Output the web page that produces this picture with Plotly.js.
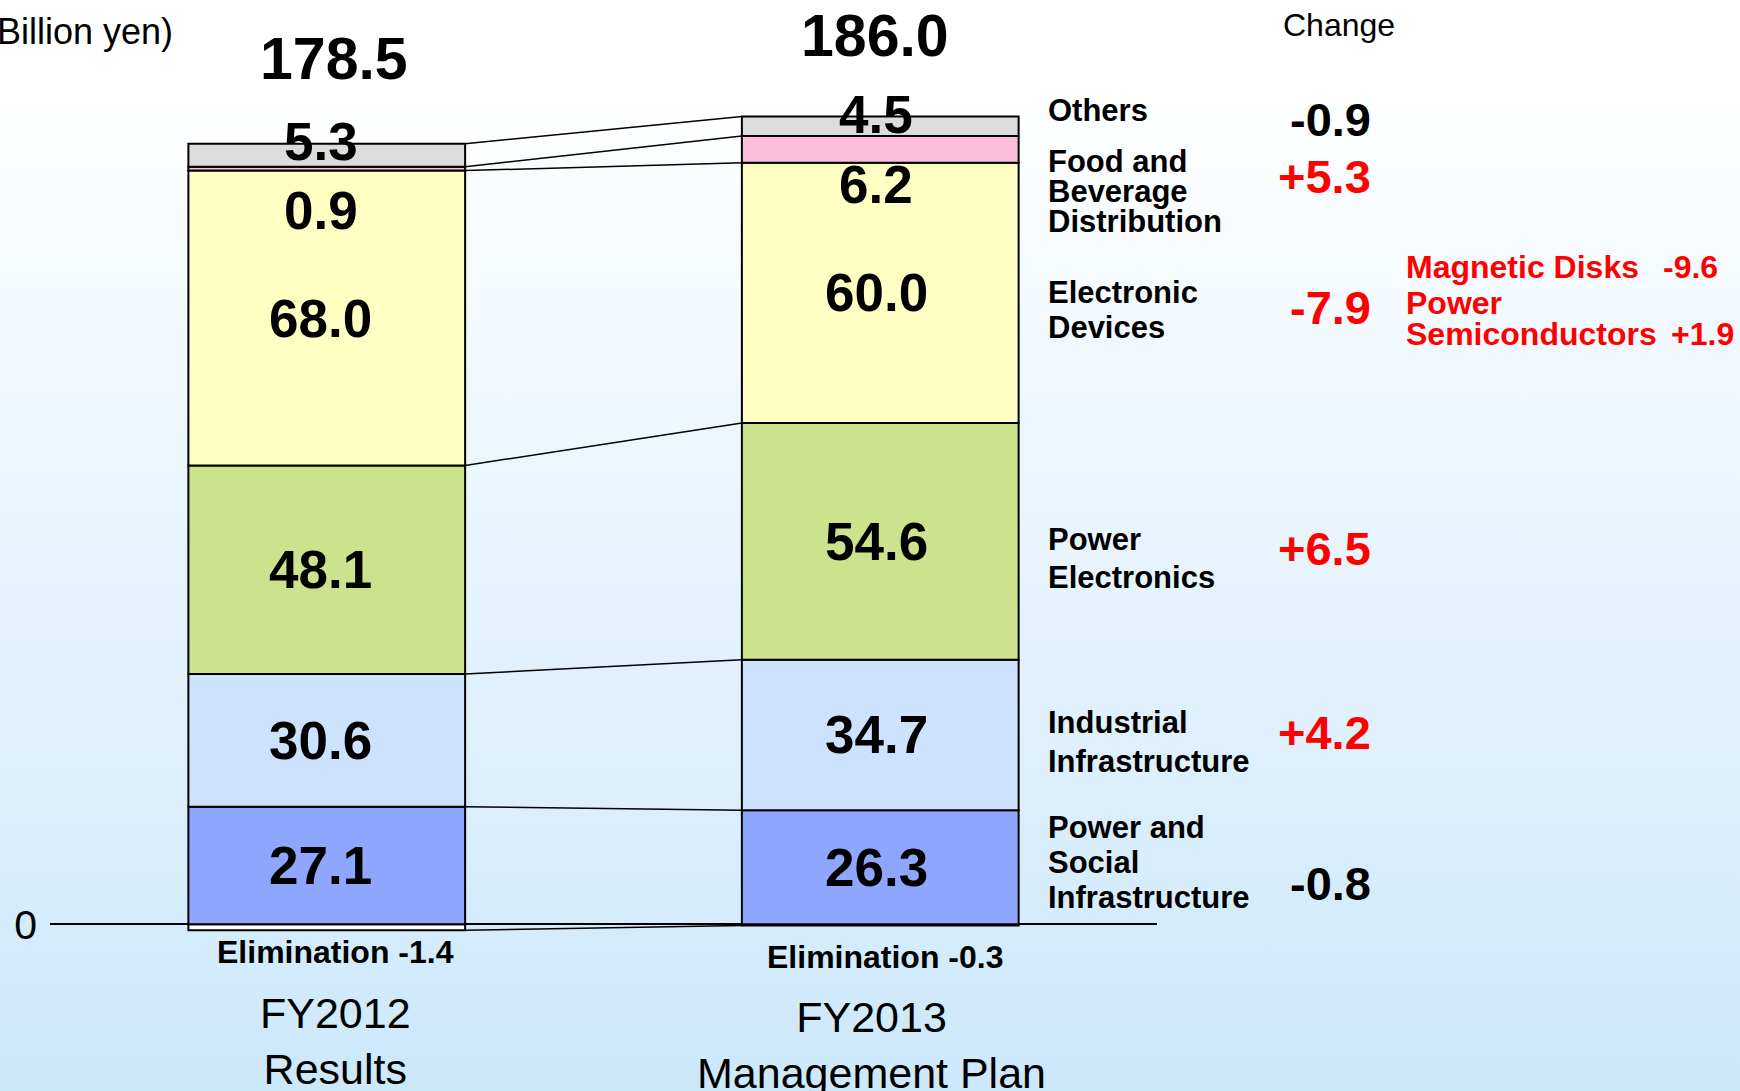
<!DOCTYPE html>
<html>
<head>
<meta charset="utf-8">
<script src="https://cdn.plot.ly/plotly-3.0.1.min.js"></script>
<style>
  html, body { margin: 0; padding: 0; }
  body {
    width: 1740px; height: 1091px; overflow: hidden;
    background: linear-gradient(to bottom, #ffffff 0%, #ffffff 8%, #cce8fb 100%);
  }
  #chart { width: 1740px; height: 1091px; }
</style>
</head>
<body>
<div id="chart"></div>
<script>
// segment values, billion yen (bottom to top)
const categories = ['FY2012<br>Results', 'FY2013<br>Management Plan'];
const powerSocial = [27.1, 26.3];
const industrial = [30.6, 34.7];
const powerElec = [48.1, 54.6];
const electronic = [68.0, 60.0];
const food = [0.9, 6.2];
const others = [5.3, 4.5];
const elimination = [-1.4, -0.3];
const totals = [178.5, 186.0];

// right hand labels and changes (top of the stack first)
const segmentNames = [
  ['Others'],
  ['Food and', 'Beverage', 'Distribution'],
  ['Electronic', 'Devices'],
  ['Power', 'Electronics'],
  ['Industrial', 'Infrastructure'],
  ['Power and', 'Social', 'Infrastructure']
];
const changes = ['-0.9', '+5.3', '-7.9', '+6.5', '+4.2', '-0.8'];
const changeRed = [false, true, true, true, true, false];
const detailNames = ['Magnetic Disks', 'Power', 'Semiconductors'];
const detailValues = ['-9.6', '', '+1.9'];

const W = 1740, H = 1091;
const M = {l: 50, r: 583, t: 57, b: 80};
const FONT = '"Liberation Sans", Arial, sans-serif';
const px = x => (x - M.l) / (W - M.l - M.r);
const py = y => (H - M.b - y) / (H - M.t - M.b);

const xs = [0, 1];
const BW = 0.5;

const series = [
  {name: 'Elimination', y: elimination, color: '#ffffff'},
  {name: 'Power and Social Infrastructure', y: powerSocial, color: '#8fa6ff'},
  {name: 'Industrial Infrastructure', y: industrial, color: '#cde2fd'},
  {name: 'Power Electronics', y: powerElec, color: '#cde28c'},
  {name: 'Electronic Devices', y: electronic, color: '#ffffc4'},
  {name: 'Food and Beverage Distribution', y: food, color: '#fbbfd9'},
  {name: 'Others', y: others, color: '#dcdcdc'}
];

const traces = series.map(s => ({
  type: 'bar',
  x: xs,
  y: s.y,
  width: BW,
  name: s.name,
  marker: {color: s.color, line: {color: '#000000', width: 2}},
  hoverinfo: 'skip'
}));

// cumulative tops of each positive segment
const positive = series.slice(1);
const tops = [];
let run = [0, 0];
positive.forEach(s => {
  run = run.map((v, i) => v + s.y[i]);
  tops.push(run.slice());
});

// connecting lines between the bars
const links = [elimination].concat(tops);
links.forEach(t => {
  traces.push({
    type: 'scatter', mode: 'lines',
    x: [xs[0] + BW / 2, xs[1] - BW / 2],
    y: t,
    line: {color: '#000000', width: 1.5},
    hoverinfo: 'skip', showlegend: false
  });
});

const annotations = [];
const bold = (size, color) => ({family: FONT, size: size, color: color || '#000000', weight: 'bold'});
const plain = size => ({family: FONT, size: size, color: '#000000'});
const note = o => Object.assign({showarrow: false, xanchor: 'center', yanchor: 'middle'}, o);

// values centred in the four big segments
const valShift = [-6, -4];
[1, 2, 3, 4].forEach(k => {
  const s = series[k];
  xs.forEach((x, i) => {
    const base = k === 1 ? 0 : tops[k - 2][i];
    annotations.push(note({
      x: x, y: base + s.y[i] / 2, xref: 'x', yref: 'y', xshift: valShift[i],
      text: s.y[i].toFixed(1), font: bold(53)
    }));
  });
});

// food labels sit just under their thin segment, others on the top edge
const foodShift = [-40, -22];
xs.forEach((x, i) => {
  annotations.push(note({
    x: x, y: tops[3][i], xref: 'x', yref: 'y', yshift: foodShift[i], xshift: valShift[i],
    text: food[i].toFixed(1), font: bold(53)
  }));
  annotations.push(note({
    x: x, y: tops[5][i], xref: 'x', yref: 'y', yshift: 2, xshift: valShift[i],
    text: others[i].toFixed(1), font: bold(53)
  }));
});

// totals above bars
const totalShift = [85, 80];
const totalX = [7, -5];
xs.forEach((x, i) => {
  annotations.push(note({
    x: x, y: tops[5][i], xref: 'x', yref: 'y', yshift: totalShift[i], xshift: totalX[i],
    text: totals[i].toFixed(1), font: bold(59)
  }));
});

// elimination and category labels under the axis
const elimShift = [-28, -33];
const elimX = [9, 5];
const catShift = [9, -9];
xs.forEach((x, i) => {
  annotations.push(note({
    x: x, y: 0, xref: 'x', yref: 'y', yshift: elimShift[i], xshift: elimX[i],
    text: 'Elimination ' + elimination[i].toFixed(1), font: bold(32)
  }));
  annotations.push(note({
    x: x, y: py(1041 + i * 4), xref: 'x', yref: 'paper', xshift: catShift[i],
    text: categories[i], font: plain(43)
  }));
});

// right side names and changes
const nameLines = [[110], [162, 192, 222], [292, 327], [539, 577], [722, 761], [827, 862, 897]];
const changeY = [120, 177, 307, 548, 732, 883];
segmentNames.forEach((lines, k) => {
  lines.forEach((t, j) => {
    annotations.push(note({
      x: px(1046), y: py(nameLines[k][j]), xref: 'paper', yref: 'paper',
      xanchor: 'left', text: t, font: bold(31)
    }));
  });
  annotations.push(note({
    x: px(1373), y: py(changeY[k]), xref: 'paper', yref: 'paper',
    xanchor: 'right', text: changes[k],
    font: bold(47, changeRed[k] ? '#ff0000' : '#000000')
  }));
});

// electronic devices breakdown
const detailY = [267, 303, 334];
const detailRight = [1720, 0, 1736];
detailNames.forEach((t, j) => {
  annotations.push(note({
    x: px(1404), y: py(detailY[j]), xref: 'paper', yref: 'paper',
    xanchor: 'left', text: t, font: bold(32, '#ff0000')
  }));
  if (detailValues[j]) {
    annotations.push(note({
      x: px(detailRight[j]), y: py(detailY[j]), xref: 'paper', yref: 'paper',
      xanchor: 'right', text: detailValues[j], font: bold(32, '#ff0000')
    }));
  }
});

annotations.push(note({
  x: px(1339), y: py(25), xref: 'paper', yref: 'paper',
  text: 'Change', font: plain(32)
}));
annotations.push(note({
  x: px(175), y: py(31), xref: 'paper', yref: 'paper', xanchor: 'right',
  text: '(Billion yen)', font: plain(36)
}));

const layout = {
  width: W, height: H,
  margin: {l: M.l, r: M.r, t: M.t, b: M.b, pad: 0},
  paper_bgcolor: 'rgba(0,0,0,0)',
  plot_bgcolor: 'rgba(0,0,0,0)',
  barmode: 'relative',
  showlegend: false,
  font: {family: FONT},
  xaxis: {range: [-0.5, 1.5], showgrid: false, zeroline: false, showticklabels: false, showline: false, fixedrange: true},
  yaxis: {
    range: [-20, 200], showgrid: false, showline: false,
    zeroline: true, zerolinecolor: '#000000', zerolinewidth: 2,
    tickvals: [0], ticktext: ['0'], ticks: '', ticklabelstandoff: 12,
    tickfont: plain(41), fixedrange: true
  },
  annotations: annotations
};

Plotly.newPlot('chart', traces, layout, {displayModeBar: false, staticPlot: true});
</script>
</body>
</html>
